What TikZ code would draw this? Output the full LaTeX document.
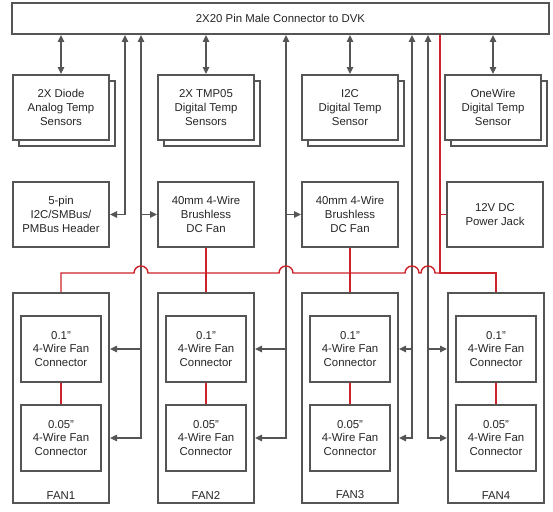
\documentclass[tikz,border=0pt]{standalone}
\usepackage{fontspec}
\setmainfont{Liberation Sans}
\usepackage{xcolor}
\usepackage{tikz}
\usetikzlibrary{arrows.meta}
\usetikzlibrary{shadows}
\definecolor{boxgray}{HTML}{555555}
\definecolor{wirered}{HTML}{CC2229}

\begin{document}
\begin{tikzpicture}[x=1pt,y=-1pt,>={Triangle[length=7pt,width=6.5pt]},
box/.style={draw=boxgray,line width=2pt,fill=white,minimum width=96pt,minimum height=65pt,align=center,inner sep=0pt,font=\fontsize{11.4}{13.7}\selectfont,text=black!85},
sens/.style={box,copy shadow={shadow xshift=6pt,shadow yshift=-6pt,draw=boxgray,fill=white,line width=2pt}},
conn/.style={box,minimum width=80pt,minimum height=66pt},
fanbox/.style={box,minimum height=210pt},
bus/.style={draw=boxgray,line width=1.4pt},
wire/.style={draw=wirered,line width=1.4pt}]
\useasboundingbox(0,0)rectangle(553,511);

\node[box,minimum width=537pt,minimum height=31pt](dvk)at(280.5,18.5){2X20 Pin Male Connector to DVK};

\node[sens](dio)at(61,107.5){2X Diode\\Analog Temp\\Sensors};
\node[sens](tmp)at(206,107.5){2X TMP05\\Digital Temp\\Sensors};
\node[sens](i2c)at(350,107.5){I2C\\Digital Temp\\Sensor};
\node[sens](ow)at(493,107.5){OneWire\\Digital Temp\\Sensor};

\node[box](hdr)at(61,214.5){5-pin\\I2C/SMBus/\\PMBus Header};
\node[box](fa)at(206,214.5){40mm 4-Wire\\Brushless\\DC Fan};
\node[box](fb)at(350,214.5){40mm 4-Wire\\Brushless\\DC Fan};
\node[box](pwr)at(495,214.5){12V DC\\Power Jack};

\foreach\i/\x in{1/61,2/206,3/350,4/496}{
\node[fanbox](F\i)at(\x,398){};
\node[box,draw=none,fill=none,minimum width=0pt,minimum height=0pt,anchor=south,inner sep=4pt](L\i)at(F\i.south){FAN\i};
\node[conn](P\i)at(\x,349){0.1"\\4-Wire Fan\\Connector};
\node[conn](Q\i)at(\x,438){0.05"\\4-Wire Fan\\Connector};
\draw[wire](P\i)--(Q\i);
}

\coordinate(b1)at(125,0);
\coordinate(b2)at(141,0);
\coordinate(b3)at(286,0);
\coordinate(b4)at(412,0);
\coordinate(b5)at(428,0);
\coordinate(r0)at(440,0);
\coordinate(rw)at(0,273);

% sensor links
\draw[bus,<->](dio.north)--(dio.north|-dvk.south);
\draw[bus,<->](tmp.north)--(tmp.north|-dvk.south);
\draw[bus,<->](i2c.north)--(i2c.north|-dvk.south);
\draw[bus,<->](ow.north)--(ow.north|-dvk.south);

% signal buses
\draw[bus,<->](hdr.east)-|(b1|-dvk.south);
\draw[bus,<->](b2|-dvk.south)|-(F1.east|-Q1);
\draw[bus,->](b2|-P1)--(F1.east|-P1);
\draw[bus,->](b2|-fa)--(fa.west);
\draw[bus,<->](b3|-dvk.south)|-(F2.east|-Q2);
\draw[bus,->](b3|-P2)--(F2.east|-P2);
\draw[bus,->](b3|-fb)--(fb.west);
\draw[bus,<->](b4|-dvk.south)|-(F3.east|-Q3);
\draw[bus,->](b4|-P3)--(F3.east|-P3);
\draw[bus,<->](b5|-dvk.south)|-(F4.west|-Q4);
\draw[bus,->](b5|-P4)--(F4.west|-P4);

% power
\draw[wire](r0|-dvk.south)--(r0|-rw)-|(F4.north);
\draw[wire](r0|-pwr)--(pwr.west);
\draw[wire](fa.south)--(F2.north);
\draw[wire](fb.south)--(F3.north);
\draw[wire](F1.north)|-(134,273)arc(180:360:7)--(279,273)arc(180:360:7)--(405,273)arc(180:360:7)--(421,273)arc(180:360:7)--(r0|-rw);

\end{tikzpicture}
\end{document}
